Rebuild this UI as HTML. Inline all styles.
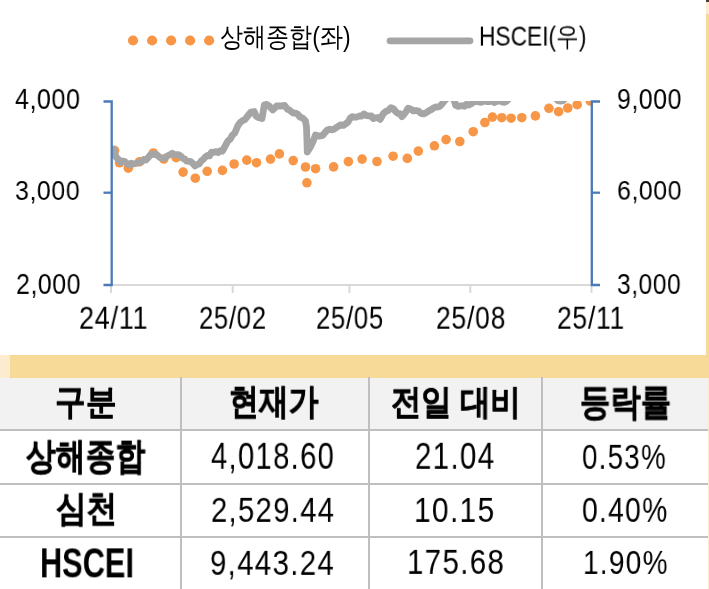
<!DOCTYPE html>
<html><head><meta charset="utf-8">
<style>
html,body{margin:0;padding:0;width:709px;height:589px;overflow:hidden;background:#fff;}
body{position:relative;font-family:"Liberation Sans",sans-serif;color:#000;}
.a{position:absolute;white-space:nowrap;line-height:1;transform-origin:0 0;will-change:transform;}
.r{position:absolute;}
</style></head><body>
<div class="r" style="left:706px;top:0;width:3px;height:355px;background:#F7DA98"></div>
<div class="r" style="left:706px;top:0;width:3px;height:14px;background:#FCEBCF"></div>
<div class="r" style="left:706px;top:0;width:3px;height:2px;background:#4A3F30"></div>
<div class="r" style="left:0;top:355px;width:709px;height:23px;background:#F7DA98"></div>
<div class="r" style="left:0;top:355px;width:10px;height:23px;background:#FCEBCF"></div>
<div class="r" style="left:0;top:378px;width:708px;height:52px;background:#F2F2F2"></div>
<div class="r" style="left:708px;top:378px;width:1px;height:211px;background:#F8EBD2"></div>
<div class="r" style="left:0;top:429px;width:708px;height:2px;background:#BFBFBF"></div>
<div class="r" style="left:0;top:483px;width:708px;height:2px;background:#BFBFBF"></div>
<div class="r" style="left:0;top:536px;width:708px;height:2px;background:#BFBFBF"></div>
<div class="r" style="left:180px;top:377px;width:2px;height:212px;background:#BFBFBF"></div>
<div class="r" style="left:368px;top:377px;width:2px;height:212px;background:#BFBFBF"></div>
<div class="r" style="left:541px;top:377px;width:2px;height:212px;background:#BFBFBF"></div>
<svg class="r" style="left:0;top:0" width="709" height="589" viewBox="0 0 709 589">
  <defs><clipPath id="pc"><rect x="111" y="101" width="482" height="184"/></clipPath></defs>
  <line x1="111" y1="285" x2="592" y2="285" stroke="#D9D9D9" stroke-width="2"/>
  <g stroke="#D9D9D9" stroke-width="2">
    <line x1="111" y1="285" x2="111" y2="293"/>
    <line x1="232.7" y1="285" x2="232.7" y2="293"/>
    <line x1="349.4" y1="285" x2="349.4" y2="293"/>
    <line x1="470.3" y1="285" x2="470.3" y2="293"/>
    <line x1="591.5" y1="285" x2="591.5" y2="293"/>
  </g>
  <g clip-path="url(#pc)">
    <g fill="#F79646"><circle cx="114.6" cy="150.5" r="4.8"/><circle cx="119.5" cy="162.8" r="4.8"/><circle cx="128.3" cy="168.2" r="4.8"/><circle cx="139.3" cy="161.8" r="4.8"/><circle cx="153.3" cy="153.0" r="4.8"/><circle cx="163.8" cy="159.0" r="4.8"/><circle cx="176.1" cy="157.6" r="4.8"/><circle cx="183.1" cy="172.1" r="4.8"/><circle cx="195.3" cy="178.2" r="4.8"/><circle cx="207.2" cy="171.3" r="4.8"/><circle cx="222.4" cy="170.4" r="4.8"/><circle cx="234.1" cy="164.0" r="4.8"/><circle cx="246.8" cy="160.1" r="4.8"/><circle cx="256.5" cy="162.7" r="4.8"/><circle cx="270.5" cy="159.1" r="4.8"/><circle cx="279.4" cy="153.9" r="4.8"/><circle cx="293.2" cy="160.6" r="4.8"/><circle cx="305.5" cy="167.0" r="4.8"/><circle cx="306.9" cy="182.8" r="4.8"/><circle cx="315.6" cy="168.7" r="4.8"/><circle cx="333.6" cy="166.9" r="4.8"/><circle cx="348.4" cy="161.6" r="4.8"/><circle cx="362.1" cy="159.1" r="4.8"/><circle cx="377.0" cy="161.5" r="4.8"/><circle cx="393.1" cy="156.2" r="4.8"/><circle cx="407.3" cy="158.4" r="4.8"/><circle cx="418.3" cy="151.1" r="4.8"/><circle cx="434.4" cy="145.8" r="4.8"/><circle cx="446.1" cy="139.6" r="4.8"/><circle cx="459.8" cy="141.5" r="4.8"/><circle cx="473.2" cy="131.7" r="4.8"/><circle cx="484.9" cy="122.5" r="4.8"/><circle cx="492.4" cy="117.1" r="4.8"/><circle cx="501.8" cy="117.7" r="4.8"/><circle cx="511.1" cy="118.2" r="4.8"/><circle cx="521.8" cy="117.7" r="4.8"/><circle cx="535.4" cy="115.9" r="4.8"/><circle cx="548.9" cy="108.3" r="4.8"/><circle cx="558.6" cy="111.7" r="4.8"/><circle cx="567.8" cy="108.0" r="4.8"/><circle cx="577.2" cy="104.7" r="4.8"/><circle cx="590.2" cy="101.0" r="4.8"/></g>
    <polyline points="113.5,149.0 116.0,157.0 118.3,159.2 120.7,162.5 122.8,161.0 124.9,161.5 127.0,163.7 129.2,165.0 131.3,163.2 133.4,164.0 135.5,163.6 137.6,163.0 139.7,161.9 141.8,161.6 143.9,159.5 146.0,160.0 148.2,157.5 150.3,155.0 153.7,153.6 157.0,155.0 160.5,157.8 163.8,158.7 167.2,156.0 170.2,154.7 172.3,153.3 174.3,154.5 176.4,154.7 178.5,154.6 180.5,155.8 182.6,158.2 184.7,159.0 186.7,161.2 188.8,161.3 190.9,161.7 192.9,163.5 195.0,165.9 197.1,164.6 199.1,164.0 201.2,161.0 203.3,159.4 205.3,157.0 207.4,155.5 209.5,155.9 211.5,152.1 213.6,152.4 216.2,151.6 218.3,152.5 220.3,150.7 222.4,151.2 225.5,145.4 227.8,141.2 230.2,139.2 232.5,135.0 234.8,133.0 237.9,125.6 240.2,122.5 242.6,120.6 244.9,119.6 247.2,116.7 251.0,112.0 254.2,111.5 256.0,116.0 258.1,117.5 262.0,118.6 264.3,104.8 266.6,104.4 269.0,105.9 272.8,110.0 276.7,105.9 279.3,106.0 281.9,106.0 284.5,105.4 287.6,109.3 289.7,110.2 291.7,112.0 293.8,113.2 295.9,113.2 297.9,114.4 300.0,117.0 302.7,118.1 305.4,120.9 306.5,127.0 307.3,152.0 310.9,146.2 313.2,141.1 315.5,134.9 318.9,136.1 322.8,135.3 325.1,132.4 327.4,129.9 329.5,129.2 331.5,129.8 333.6,129.4 336.0,127.7 338.3,126.3 340.9,124.8 343.4,125.4 346.0,123.7 348.1,122.0 350.1,118.3 352.2,116.7 354.5,117.1 356.9,117.0 359.2,116.0 361.6,116.1 363.9,113.9 366.6,115.6 369.3,116.0 371.4,116.0 373.4,118.6 375.5,117.8 377.9,117.5 380.2,119.4 383.3,113.6 385.9,111.4 388.4,110.4 391.0,107.7 393.4,108.6 395.7,111.6 397.8,113.3 399.8,113.6 401.9,116.7 404.0,114.4 406.0,111.8 408.1,108.2 410.7,109.2 413.3,110.9 415.9,110.5 418.5,111.1 421.0,113.4 423.6,113.9 426.5,112.5 429.3,110.5 431.4,109.6 433.4,108.0 435.5,107.0 437.6,107.1 439.6,106.5 441.7,104.3 443.9,101.6 446.0,99.0 448.0,98.0 450.0,96.0 452.0,96.7 454.0,100.0 455.7,105.4 458.0,106.3 460.3,105.9 462.4,105.8 464.4,106.3 466.5,104.3 468.9,105.0 471.2,103.8 473.5,102.0 475.9,101.5 478.0,101.3 480.0,102.3 482.1,102.0 484.7,100.4 487.2,101.6 489.8,101.5 492.1,101.0 494.5,102.5 497.1,101.2 499.6,100.8 502.2,102.0 504.5,102.3 506.9,101.0 510.0,97.0 512.0,93.9 514.0,93.0 516.0,92.0 518.0,92.2 520.0,93.4 522.0,90.7 524.0,91.6 526.0,91.6 528.0,92.4 530.0,91.0 532.0,92.2 534.0,92.5 536.0,90.9 538.0,91.5 540.0,91.6 542.0,93.4 544.0,93.8 546.0,91.6 548.0,91.8 550.0,93.0 552.0,94.1 554.0,96.1 556.0,98.7 558.0,100.7 560.5,101.0 563.0,100.7 565.5,98.1 568.0,97.0 570.1,95.3 572.2,96.4 574.3,96.1 576.4,96.5 578.5,97.5 580.5,96.5 582.6,95.8 584.7,95.9 586.8,95.9 588.9,93.8 591.0,95.0" fill="none" stroke="#A5A5A5" stroke-width="6.8" stroke-linejoin="round" stroke-linecap="round"/>
  </g>
  <g stroke="#4A7AB8" stroke-width="2.3" fill="none">
    <polyline points="103.5,101.5 111.7,101.5 111.7,285 103.5,285"/>
    <line x1="103.5" y1="192.7" x2="111.7" y2="192.7"/>
    <polyline points="600,101.5 591.8,101.5 591.8,285 600,285"/>
    <line x1="591.8" y1="192.7" x2="600" y2="192.7"/>
  </g>
  <g fill="#F79646">
    <circle cx="133" cy="40.5" r="5.1"/><circle cx="152.1" cy="40.5" r="5.1"/><circle cx="171.1" cy="40.5" r="5.1"/><circle cx="190.1" cy="40.5" r="5.1"/><circle cx="209.1" cy="40.5" r="5.1"/>
  </g>
  <line x1="390" y1="40.8" x2="470" y2="40.8" stroke="#A5A5A5" stroke-width="6.8" stroke-linecap="round"/>
</svg>
<div class="a" id="lg1" style="left:220.25px;top:23.84px;font-size:23px;font-weight:normal;transform:scale(1.0022,1.1714);">상해종합(좌)</div>
<div class="a" id="lg2" style="left:479.23px;top:23.14px;font-size:23px;font-weight:normal;transform:scale(0.9886,1.1892);">HSCEI(우)</div>
<div class="a" id="yl1" style="left:14.75px;top:85.28px;font-size:28px;font-weight:normal;transform:scale(0.8949,1.0318);letter-spacing:0.6px;">4,000</div>
<div class="a" id="yl2" style="left:15.05px;top:177.31px;font-size:28px;font-weight:normal;transform:scale(0.8917,1.0021);letter-spacing:0.6px;">3,000</div>
<div class="a" id="yl3" style="left:15.82px;top:269.50px;font-size:28px;font-weight:normal;transform:scale(0.8894,1.0407);letter-spacing:0.6px;">2,000</div>
<div class="a" id="yr1" style="left:616.68px;top:85.40px;font-size:28px;font-weight:normal;transform:scale(0.8882,1.0241);letter-spacing:0.6px;">9,000</div>
<div class="a" id="yr2" style="left:616.55px;top:177.17px;font-size:28px;font-weight:normal;transform:scale(0.8895,0.9860);letter-spacing:0.6px;">6,000</div>
<div class="a" id="yr3" style="left:616.75px;top:269.52px;font-size:28px;font-weight:normal;transform:scale(0.8779,1.0267);letter-spacing:0.6px;">3,000</div>
<div class="a" id="x1" style="left:78.64px;top:303.31px;font-size:28px;font-weight:normal;transform:scale(0.9641,1.1300);letter-spacing:0.8px;">24/11</div>
<div class="a" id="x2" style="left:199.28px;top:303.42px;font-size:28px;font-weight:normal;transform:scale(0.9145,1.1329);letter-spacing:0.8px;">25/02</div>
<div class="a" id="x3" style="left:315.57px;top:303.05px;font-size:28px;font-weight:normal;transform:scale(0.9170,1.1388);letter-spacing:0.8px;">25/05</div>
<div class="a" id="x4" style="left:436.02px;top:303.05px;font-size:28px;font-weight:normal;transform:scale(0.9467,1.1388);letter-spacing:0.8px;">25/08</div>
<div class="a" id="x5" style="left:557.02px;top:303.42px;font-size:28px;font-weight:normal;transform:scale(0.9457,1.1329);letter-spacing:0.8px;">25/11</div>
<div class="a" id="h1" style="left:55.00px;top:384.05px;font-size:31px;font-weight:bold;transform:scale(0.9997,1.1441);-webkit-text-stroke:0.5px #000;">구분</div>
<div class="a" id="h2" style="left:229.22px;top:383.34px;font-size:31px;font-weight:bold;transform:scale(0.9624,1.1631);-webkit-text-stroke:0.5px #000;">현재가</div>
<div class="a" id="h3" style="left:390.67px;top:385.22px;font-size:31px;font-weight:bold;transform:scale(0.9744,1.1202);-webkit-text-stroke:0.5px #000;">전일 대비</div>
<div class="a" id="h4" style="left:579.54px;top:383.39px;font-size:31px;font-weight:bold;transform:scale(0.9817,1.2006);-webkit-text-stroke:0.5px #000;">등락률</div>
<div class="a" id="c11" style="left:25.60px;top:436.61px;font-size:31px;font-weight:bold;transform:scale(0.9638,1.2069);-webkit-text-stroke:0.5px #000;">상해종합</div>
<div class="a" id="c21" style="left:55.98px;top:491.10px;font-size:31px;font-weight:bold;transform:scale(0.9843,1.1576);-webkit-text-stroke:0.5px #000;">심천</div>
<div class="a" id="c31" style="left:40.24px;top:541.93px;font-size:32px;font-weight:bold;transform:scale(0.9607,1.3141);">HSCEI</div>
<div class="a" id="c12" style="left:211.32px;top:437.85px;font-size:33px;font-weight:normal;transform:scale(0.8847,1.0974);letter-spacing:1.5px;">4,018.60</div>
<div class="a" id="c22" style="left:210.76px;top:491.94px;font-size:33px;font-weight:normal;transform:scale(0.8860,1.0765);letter-spacing:1.5px;">2,529.44</div>
<div class="a" id="c32" style="left:210.43px;top:544.97px;font-size:33px;font-weight:normal;transform:scale(0.8909,1.0635);letter-spacing:1.5px;">9,443.24</div>
<div class="a" id="c13" style="left:414.92px;top:437.51px;font-size:33px;font-weight:normal;transform:scale(0.8935,1.0998);letter-spacing:1.5px;">21.04</div>
<div class="a" id="c23" style="left:414.38px;top:491.80px;font-size:33px;font-weight:normal;transform:scale(0.9054,1.0619);letter-spacing:1.5px;">10.15</div>
<div class="a" id="c33" style="left:406.80px;top:544.06px;font-size:33px;font-weight:normal;transform:scale(0.8940,1.0646);letter-spacing:1.5px;">175.68</div>
<div class="a" id="c14" style="left:582.41px;top:438.53px;font-size:33px;font-weight:normal;transform:scale(0.8405,1.0713);letter-spacing:1.5px;">0.53%</div>
<div class="a" id="c24" style="left:582.12px;top:491.83px;font-size:33px;font-weight:normal;transform:scale(0.8562,1.0808);letter-spacing:1.5px;">0.40%</div>
<div class="a" id="c34" style="left:582.59px;top:545.19px;font-size:33px;font-weight:normal;transform:scale(0.8492,1.0334);letter-spacing:1.5px;">1.90%</div>
</body></html>
